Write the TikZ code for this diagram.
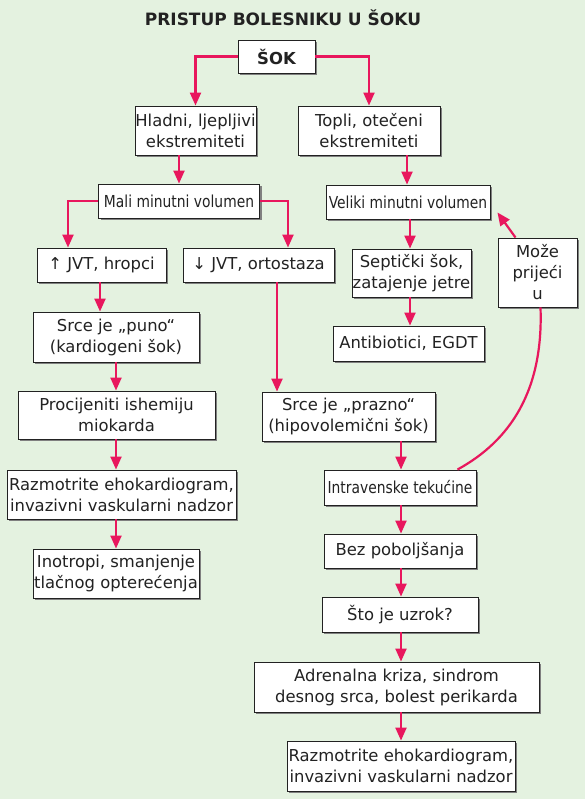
\documentclass[tikz,border=0pt]{standalone}
\usepackage{fontspec}
\setmainfont{DejaVu Sans}
\newfontfamily\condfont[FakeStretch=0.84]{DejaVu Sans}
\usetikzlibrary{arrows.meta,calc,shadows}
\definecolor{bgc}{HTML}{E4F2E0}
\definecolor{arc}{HTML}{E8175D}
\definecolor{txc}{HTML}{222222}
\begin{document}
\begin{tikzpicture}[x=1pt,y=-1pt,
 box/.style={draw=txc, line width=0.9pt, fill=white, inner sep=0pt, align=center,
   font=\fontsize{16.4}{21}\selectfont, text=txc,
   drop shadow={shadow xshift=2pt, shadow yshift=-2pt, fill=black!50, opacity=1}},
 cbox/.style={box, font=\condfont\fontsize{16.5}{21}\selectfont},
 conn/.style={draw=arc, line width=2.2pt, -{Triangle[length=13pt,width=11pt]}},
 plain/.style={draw=arc, line width=2.2pt},
]
\fill[bgc] (0,0) rectangle (585,799);
\useasboundingbox (0,0) rectangle (585,799);

\node[text=txc, font=\bfseries\fontsize{17}{20}\selectfont] (title) at (283,18) {PRISTUP BOLESNIKU U ŠOKU};

\node[box, font=\bfseries\fontsize{16.5}{19}\selectfont, minimum width=77, minimum height=33] (sok) at (276.5,56.5) {ŠOK};
\node[box, minimum width=121, minimum height=49] (hl) at (195.5,130.5) {Hladni, ljepljivi\\ekstremiteti};
\node[box, minimum width=142, minimum height=49] (tp) at (369,130.5) {Topli, otečeni\\ekstremiteti};
\node[cbox, minimum width=161, minimum height=34] (mali) at (179,201) {Mali minutni volumen};
\node[box, minimum width=129, minimum height=34] (jvtu) at (101.5,265) {↑ JVT, hropci};
\node[box, minimum width=151, minimum height=34] (jvtd) at (258.5,265) {↓ JVT, ortostaza};
\node[box, minimum width=166, minimum height=50] (puno) at (116,337) {Srce je „puno“\\(kardiogeni šok)};
\node[box, minimum width=197, minimum height=48] (proc) at (116.5,415) {Procijeniti ishemiju\\miokarda};
\node[box, minimum width=229, minimum height=49] (razL) at (121.5,494.5) {Razmotrite ehokardiogram,\\invazivni vaskularni nadzor};
\node[box, minimum width=166, minimum height=49] (ino) at (116,573.5) {Inotropi, smanjenje\\tlačnog opterećenja};
\node[box, minimum width=173, minimum height=49] (prazno) at (348.5,416.5) {Srce je „prazno“\\(hipovolemični šok)};
\node[cbox, minimum width=152, minimum height=35] (iv) at (400,487.5) {Intravenske tekućine};
\node[box, minimum width=152, minimum height=34] (bez) at (400,551) {Bez poboljšanja};
\node[box, minimum width=156, minimum height=35] (sto) at (400,614.5) {Što je uzrok?};
\node[box, minimum width=285, minimum height=50] (adr) at (396.5,687) {Adrenalna kriza, sindrom\\desnog srca, bolest perikarda};
\node[box, minimum width=228, minimum height=50] (razR) at (401,766) {Razmotrite ehokardiogram,\\invazivni vaskularni nadzor};
\node[cbox, minimum width=164, minimum height=34] (vel) at (408,202) {Veliki minutni volumen};
\node[box, minimum width=119, minimum height=48] (sep) at (411.5,273) {Septički šok,\\zatajenje jetre};
\node[box, minimum width=151, minimum height=35] (ant) at (408.5,343.5) {Antibiotici, EGDT};
\node[box, minimum width=79, minimum height=69] (moze) at (537.5,272.5) {Može\\prijeći\\u};

\draw[conn] (sok.west) -| (hl.north);
\draw[conn] (sok.east) -| (tp.north);
\draw[conn] (mali.north |- hl.south) -- (mali.north);
\draw[conn] (mali.west) -| ([xshift=-33.5pt]jvtu.north);
\draw[conn] (mali.east) -| ([xshift=29.5pt]jvtd.north);
\draw[conn] ([xshift=-1.5pt]jvtu.south) -- ([xshift=-1.5pt]jvtu.south |- puno.north);
\draw[conn] (puno.south) -- (puno.south |- proc.north);
\draw[conn] (puno.south |- proc.south) -- (puno.south |- razL.north);
\draw[conn] (ino.north |- razL.south) -- (ino.north);
\draw[conn] ([xshift=18.5pt]jvtd.south) -- ([xshift=18.5pt]jvtd.south |- prazno.north);
\draw[conn] ([xshift=1pt]iv.north |- prazno.south) -- ([xshift=1pt]iv.north);
\draw[conn] ([xshift=1pt]iv.south) -- ([xshift=1pt]bez.north);
\draw[conn] ([xshift=1pt]bez.south) -- ([xshift=1pt]sto.north);
\draw[conn] ([xshift=1pt]sto.south) -- ([xshift=1pt]sto.south |- adr.north);
\draw[conn] (razR.north |- adr.south) -- (razR.north);
\draw[conn] ([xshift=-1pt]vel.north |- tp.south) -- ([xshift=-1pt]vel.north);
\draw[conn] ([xshift=-1.5pt]sep.north |- vel.south) -- ([xshift=-1.5pt]sep.north);
\draw[conn] ([xshift=-1.5pt]sep.south) -- ([xshift=-1.5pt]sep.south |- ant.north);

\coordinate (cs) at ($(iv.north east)+(-19,0)$);
\coordinate (ce) at ($(moze.south)+(3,0)$);
\draw[plain] (cs) .. controls ($(cs)+(53,-29)$) and ($(ce)+(3,83)$) .. (ce);
\coordinate (mt) at ($(moze.north)+(-22,0)$);
\coordinate (vt) at ($(vel.south east)+(7,-7)$);
\draw[conn] (mt) -- (vt);
\end{tikzpicture}
\end{document}
